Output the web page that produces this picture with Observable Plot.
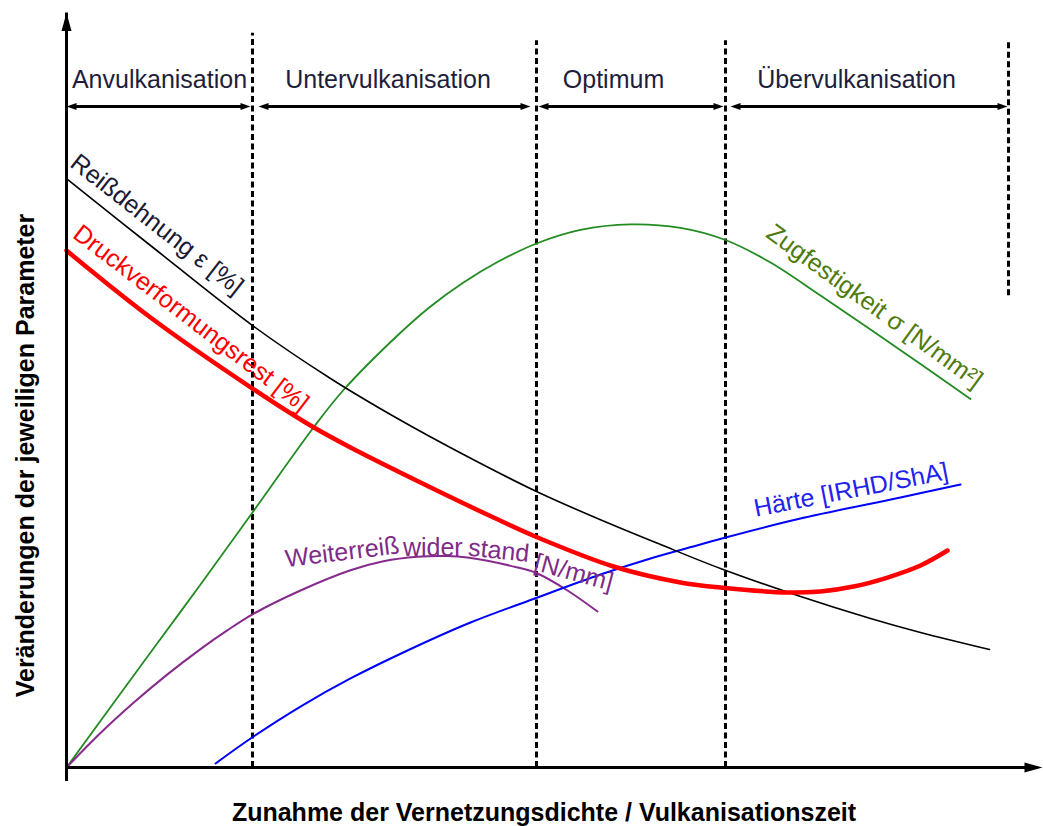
<!DOCTYPE html>
<html>
<head>
<meta charset="utf-8">
<script src="https://cdn.jsdelivr.net/npm/d3@7"></script>
<script src="https://cdn.jsdelivr.net/npm/@observablehq/plot@0.6"></script>
<style>
  body { margin: 0; background: #fff; }
  svg { display: block; }
</style>
</head>
<body>
<div id="chart"></div>
<script>
// ---- Phases (x in relative units 0..100 of cure time / crosslink density) ----
const phases = ["Anvulkanisation", "Untervulkanisation", "Optimum", "Übervulkanisation"];
const phaseStart = [0, 19.2, 47.2, 66.4];
const phaseEnd = [18.4, 46.4, 65.7, 94.1];
const phaseCenter = [9.3, 32.15, 54.7, 79.0];
const dividerX = [18.6, 47.0, 65.9, 94.2];
const dividerTop = [97.9, 96.9, 96.9, 96.9];
const dividerBottom = [0, 0, 0, 62.9];

// ---- Series (relative values 0..100) ----
const reissX = [0, 8.4, 18.6, 26.4, 33.1, 39.7, 47.0, 53.1, 59.4, 65.4, 73.1, 80.4, 85.4, 92.3];
const reissY = [78.53, 69.6, 58.93, 51.87, 46.53, 41.73, 36.8, 33.2, 29.73, 26.53, 22.93, 19.87, 18.0, 15.73];

const druckX = [0, 8.4, 18.6, 24.4, 28.4, 35.4, 42.7, 47.1, 54.7, 61.4, 65.4, 72.1, 75.4, 78.7, 82.1, 85.4, 88.1];
const druckY = [68.93, 60.0, 50.53, 45.6, 42.67, 38.0, 33.33, 30.67, 26.8, 24.67, 24.0, 23.33, 23.47, 24.13, 25.33, 26.93, 28.93];

const zugX = [0, 8.4, 13.4, 18.6, 24.7, 27.7, 33.1, 36.4, 39.7, 43.1, 47.0, 51.4, 56.4, 61.4, 65.9, 70.4, 75.4, 80.4, 85.4, 90.4];
const zugY = [0, 15.33, 24.4, 34.0, 45.33, 50.33, 57.6, 61.47, 64.67, 67.39, 69.87, 71.68, 72.41, 71.95, 70.33, 67.33, 62.93, 58.4, 53.8, 49.13];

const weiterX = [0, 3.4, 6.7, 10.0, 13.4, 16.0, 18.6, 23.4, 28.4, 31.7, 35.1, 38.0, 40.1, 45.1, 47.1, 50.1, 53.1];
const weiterY = [0, 4.59, 8.62, 12.32, 15.79, 18.21, 20.42, 23.6, 26.3, 27.5, 28.1, 28.2, 28.0, 26.67, 25.87, 23.6, 20.8];

const haerteX = [14.9, 18.7, 23.4, 28.4, 34.1, 40.4, 47.1, 53.4, 58.4, 63.4, 65.9, 73.4, 83.4, 89.4];
const haerteY = [0.53, 4.13, 8.13, 11.87, 15.6, 19.33, 22.67, 25.73, 27.87, 29.73, 30.67, 33.2, 36.0, 37.73];

const rows = (xs, ys) => xs.map((x, i) => ({x, y: ys[i]}));

const phaseRows = phases.map((name, i) => ({name, a: phaseStart[i], b: phaseEnd[i], c: phaseCenter[i]}));
const dividerRows = dividerX.map((x, i) => ({x, top: dividerTop[i], bottom: dividerBottom[i]}));

// filled arrowhead symbol, tip at the anchor, pointing up before rotation
const head = (len, half) => ({
  draw(ctx) { ctx.moveTo(0, 0); ctx.lineTo(half, len); ctx.lineTo(-half, len); ctx.closePath(); }
});
const bigHead = head(18, 5);
const smallHead = head(10, 3.5);

const FONT = "Liberation Sans, Arial, Helvetica, sans-serif";
const ARROW_Y = 88.13;

// curve labels (anchor in data units)
const curveLabels = [
  {t: "Reißdehnung ε [%]", x: 9.05, y: 72.4, r: 38, c: "#1a1a33"},
  {t: "Druckverformungsrest [%]", x: 12.45, y: 59.9, r: 37.5, c: "#ff0000"},
  {t: "Zugfestigkeit σ [N/mm²]", x: 80.8, y: 61.5, r: 36, c: "#4f7a0c"},
  {t: "Härte [IRHD/ShA]", x: 78.45, y: 37.0, r: -11, c: "#2222ee"},
  {t: "Weiterreiß", x: 27.57, y: 28.7, r: -7, c: "#7e2c88"},
  {t: "wider", x: 36.63, y: 29.3, r: 0, c: "#7e2c88"},
  {t: "stand", x: 43.23, y: 28.9, r: 6, c: "#7e2c88"},
  {t: "[N/mm]", x: 50.73, y: 26.0, r: 15, c: "#7e2c88"}
];

const chart = Plot.plot({
  width: 1043,
  height: 826,
  margin: 0,
  x: {domain: [0, 100], range: [66, 1066], axis: null},
  y: {domain: [0, 100], range: [767, 17], axis: null},
  color: {type: "identity"},
  style: {fontFamily: FONT, background: "white"},
  marks: [
    // phase dividers
    Plot.ruleX(dividerRows, {x: "x", y1: "bottom", y2: "top", stroke: "black", strokeWidth: 3, strokeDasharray: "6,3.5"}),
    // phase double arrows
    Plot.ruleY(phaseRows, {y: ARROW_Y, x1: "a", x2: "b", insetLeft: 6, insetRight: 6, stroke: "black", strokeWidth: 3}),
    Plot.dot(phaseRows, {x: "a", y: ARROW_Y, symbol: smallHead, rotate: -90, fill: "black", stroke: "none"}),
    Plot.dot(phaseRows, {x: "b", y: ARROW_Y, symbol: smallHead, rotate: 90, fill: "black", stroke: "none"}),
    Plot.text(phaseRows, {x: "c", y: 91.7, text: "name", fontSize: 25, fill: "#1e1e3c"}),
    // curves
    Plot.line(rows(zugX, zugY), {x: "x", y: "y", stroke: "#228b22", strokeWidth: 1.8, curve: "catmull-rom"}),
    Plot.line(rows(weiterX, weiterY), {x: "x", y: "y", stroke: "#862a8c", strokeWidth: 2, curve: "catmull-rom"}),
    Plot.line(rows(haerteX, haerteY), {x: "x", y: "y", stroke: "#0000ff", strokeWidth: 2, curve: "catmull-rom"}),
    Plot.line(rows(reissX, reissY), {x: "x", y: "y", stroke: "black", strokeWidth: 1.6, curve: "catmull-rom"}),
    Plot.line(rows(druckX, druckY), {x: "x", y: "y", stroke: "#ff0000", strokeWidth: 4.5, curve: "catmull-rom"}),
    // curve labels
    Plot.text(curveLabels, {x: "x", y: "y", text: "t", rotate: "r", fill: "c", fontSize: 25}),
    // axes
    Plot.ruleX([0], {y1: 0, y2: 100.6, insetTop: 14, stroke: "black", strokeWidth: 3}),
    Plot.ruleY([0], {x1: 0, x2: 97.6, insetRight: 14, stroke: "black", strokeWidth: 3}),
    Plot.dot([0], {x: 0, y: 100.6, symbol: bigHead, rotate: 0, fill: "black", stroke: "none"}),
    Plot.dot([0], {x: 97.6, y: 0, symbol: bigHead, rotate: 90, fill: "black", stroke: "none"}),
    // axis titles
    Plot.text(["Zunahme der Vernetzungsdichte / Vulkanisationszeit"], {x: 47.75, y: -6.0, text: d => d, fontSize: 25, fontWeight: "bold", fill: "black"}),
    Plot.text(["Veränderungen der jeweiligen Parameter"], {x: -4.1, y: 41.6, text: d => d, rotate: -90, fontSize: 25, fontWeight: "bold", fill: "black"})
  ]
});
document.getElementById("chart").appendChild(chart);
</script>
</body>
</html>
